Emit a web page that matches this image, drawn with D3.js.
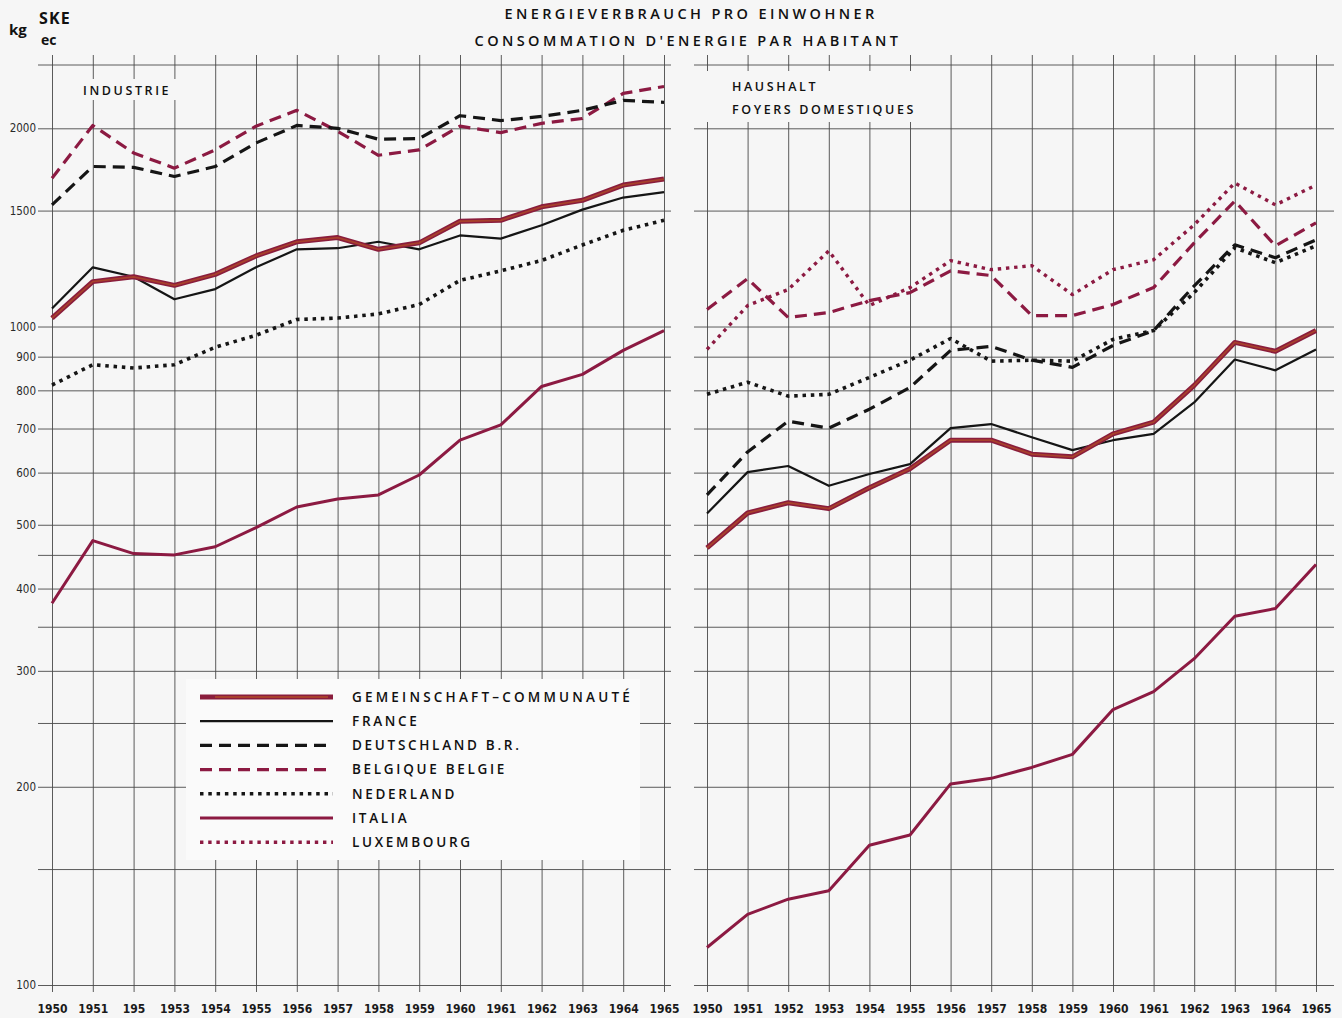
<!DOCTYPE html>
<html>
<head>
<meta charset="utf-8">
<script src="https://cdn.jsdelivr.net/npm/d3@7"></script>
<style>
  body { margin: 0; background: #f6f6f6; }
  svg { display: block; }
</style>
</head>
<body>
<div id="chart"></div>
<script>
// years and tick labels
const years = [1950, 1951, 1952, 1953, 1954, 1955, 1956, 1957, 1958, 1959, 1960, 1961, 1962, 1963, 1964, 1965];
const leftYearLabels = ["1950", "1951", "195", "1953", "1954", "1955", "1956", "1957", "1958", "1959", "1960", "1961", "1962", "1963", "1964", "1965"];
const rightYearLabels = ["1950", "1951", "1952", "1953", "1954", "1955", "1956", "1957", "1958", "1959", "1960", "1961", "1962", "1963", "1964", "1965"];
const yLabelValues = [100, 200, 300, 400, 500, 600, 700, 800, 900, 1000, 1500, 2000];
const yGridValues = [100, 150, 200, 250, 300, 350, 400, 450, 500, 600, 700, 800, 900, 1000, 1500, 2000, 2500];

// Industrie (kg SKE per inhabitant)
const indGemeinschaft = [1030, 1170, 1190, 1155, 1200, 1280, 1345, 1365, 1310, 1340, 1445, 1450, 1520, 1555, 1640, 1675];
const indFrance = [1065, 1230, 1190, 1100, 1140, 1230, 1310, 1315, 1345, 1310, 1375, 1360, 1425, 1505, 1570, 1600];
const indDeutschland = [1530, 1750, 1745, 1690, 1750, 1900, 2020, 2000, 1925, 1930, 2090, 2055, 2085, 2130, 2205, 2190];
const indBelgique = [1680, 2020, 1835, 1740, 1855, 2015, 2130, 1980, 1820, 1855, 2015, 1970, 2035, 2070, 2260, 2315];
const indNederland = [815, 875, 865, 875, 930, 970, 1025, 1030, 1045, 1080, 1175, 1215, 1260, 1330, 1400, 1450];
const indItalia = [380, 473, 452, 450, 463, 495, 532, 547, 555, 595, 672, 709, 811, 846, 920, 986];

// Haushalt / foyers domestiques
const hauGemeinschaft = [461, 521, 540, 529, 569, 608, 672, 672, 640, 634, 687, 716, 814, 946, 917, 986];
const hauFrance = [520, 601, 614, 573, 597, 618, 701, 711, 679, 649, 672, 687, 767, 891, 858, 923];
const hauDeutschland = [555, 645, 718, 701, 749, 808, 920, 933, 889, 867, 936, 986, 1153, 1331, 1272, 1354];
const hauBelgique = [1061, 1182, 1032, 1050, 1095, 1126, 1215, 1195, 1039, 1039, 1080, 1146, 1340, 1551, 1326, 1437];
const hauNederland = [789, 823, 784, 789, 837, 889, 959, 886, 889, 886, 956, 986, 1126, 1317, 1250, 1326];
const hauItalia = [114, 128, 135, 139, 163, 169, 202, 206, 214, 224, 262, 279, 313, 363, 373, 435];
const hauLuxembourg = [923, 1076, 1138, 1303, 1076, 1146, 1259, 1220, 1237, 1118, 1220, 1263, 1427, 1652, 1530, 1640];

const legendNames = ["GEMEINSCHAFT\u2013COMMUNAUTÉ", "FRANCE", "DEUTSCHLAND B.R.", "BELGIQUE BELGIE", "NEDERLAND", "ITALIA", "LUXEMBOURG"];

const width = 1342, height = 1018;
const maroon = "#8c1a42";

// line styles per country
const styles = {
    gem: { stroke: "#8a1d3c", width: 5, dash: null, inner: "#a8402c" },
    fra: { stroke: "#151515", width: 2.2, dash: null },
    deu: { stroke: "#151515", width: 3.2, dash: "12,7" },
    bel: { stroke: maroon, width: 3.2, dash: "12,7" },
    ned: { stroke: "#151515", width: 3.6, dash: "3.5,4.8" },
    ita: { stroke: maroon, width: 3, dash: null },
    lux: { stroke: maroon, width: 3.4, dash: "3.4,4.8" }
};
const legendKeys = ["gem", "fra", "deu", "bel", "ned", "ita", "lux"];

const svg = d3.select("#chart")
    .append("svg")
    .attr("width", width)
    .attr("height", height)
    .style("background", "#f6f6f6");

const y = d3.scaleLog().domain([100, 2500]).range([985, 64.5]);

const panels = [
    {
        x: d3.scaleLinear().domain([1950, 1965]).range([52, 664]),
        hx: [38, 671],
        labels: leftYearLabels,
        series: [
            ["ita", indItalia], ["ned", indNederland], ["bel", indBelgique],
            ["deu", indDeutschland], ["fra", indFrance], ["gem", indGemeinschaft]
        ]
    },
    {
        x: d3.scaleLinear().domain([1950, 1965]).range([707, 1316]),
        hx: [694, 1334],
        labels: rightYearLabels,
        series: [
            ["ita", hauItalia], ["lux", hauLuxembourg], ["ned", hauNederland], ["bel", hauBelgique],
            ["deu", hauDeutschland], ["fra", hauFrance], ["gem", hauGemeinschaft]
        ]
    }
];

const gridColor = "#4a4a4a";

panels.forEach((p, pi) => {
    // horizontal grid
    svg.append("g")
        .attr("transform", `translate(${p.hx[0]},0)`)
        .call(d3.axisLeft(y).tickValues(yGridValues).tickSize(-(p.hx[1] - p.hx[0])).tickFormat(""))
        .call(g => g.select(".domain").remove())
        .call(g => g.selectAll("line").attr("stroke", gridColor).attr("stroke-width", 0.9));

    // vertical grid
    svg.append("g")
        .attr("transform", "translate(0,992)")
        .call(d3.axisBottom(p.x).tickValues(years).tickSize(-(992 - 55)).tickFormat(""))
        .call(g => g.select(".domain").remove())
        .call(g => g.selectAll("line").attr("stroke", gridColor).attr("stroke-width", 0.9));

    // year labels
    svg.append("g")
        .attr("transform", "translate(0,1001)")
        .call(d3.axisBottom(p.x).tickValues(years).tickSize(0).tickPadding(3).tickFormat((d, i) => p.labels[i]))
        .call(g => g.select(".domain").remove())
        .call(g => g.selectAll("text")
            .style("font-family", "'DejaVu Sans Condensed', 'Liberation Sans Narrow', sans-serif")
            .style("font-size", "12px")
            .style("font-weight", "bold")
            .attr("fill", "#1a1a1a"));
});

// y labels (left only)
svg.append("g")
    .attr("transform", "translate(38,0)")
    .call(d3.axisLeft(y).tickValues(yLabelValues).tickSize(0).tickPadding(2).tickFormat(d3.format("d")))
    .call(g => g.select(".domain").remove())
    .call(g => g.selectAll("text")
        .style("font-family", "'DejaVu Sans Condensed', sans-serif")
        .style("font-size", "11.5px")
        .attr("fill", "#2a2a2a"));

// masks behind panel labels
svg.append("rect").attr("x", 76).attr("y", 79).attr("width", 104).attr("height", 21).attr("fill", "#f6f6f6");
svg.append("rect").attr("x", 700).attr("y", 71).attr("width", 236).attr("height", 51).attr("fill", "#f6f6f6");

// lines
panels.forEach(p => {
    const line = d3.line()
        .x((d, i) => p.x(years[i]))
        .y(d => y(d));
    p.series.forEach(([key, values]) => {
        const s = styles[key];
        svg.append("path")
            .datum(values)
            .attr("d", line)
            .attr("fill", "none")
            .attr("stroke", s.stroke)
            .attr("stroke-width", s.width)
            .attr("stroke-dasharray", s.dash)
            .attr("stroke-linejoin", "round");
        if (s.inner) {
            svg.append("path")
                .datum(values)
                .attr("d", line)
                .attr("fill", "none")
                .attr("stroke", s.inner)
                .attr("stroke-width", 1.8)
                .attr("stroke-linejoin", "round");
        }
    });
});

// legend
svg.append("rect")
    .attr("x", 186).attr("y", 679).attr("width", 454).attr("height", 181)
    .attr("fill", "#fafafa");

const legend = svg.append("g");
legendKeys.forEach((key, i) => {
    const s = styles[key];
    const ly = 697 + i * 24.2;
    legend.append("line")
        .attr("x1", 200).attr("x2", 333).attr("y1", ly).attr("y2", ly)
        .attr("stroke", s.stroke)
        .attr("stroke-width", s.width)
        .attr("stroke-dasharray", s.dash);
    if (s.inner) {
        legend.append("line")
            .attr("x1", 215).attr("x2", 328).attr("y1", ly).attr("y2", ly)
            .attr("stroke", s.inner)
            .attr("stroke-width", 1.8);
    }
    legend.append("text")
        .attr("x", 352).attr("y", ly).attr("dy", "0.36em")
        .style("font-family", "'Open Sans', sans-serif")
        .style("font-size", "13.5px")
        .style("font-weight", "600")
        .style("letter-spacing", i === 0 ? "3.2px" : "2.7px")
        .attr("fill", "#111")
        .text(legendNames[i]);
});

// titles
const capsFont = "'Open Sans', sans-serif";
svg.append("text")
    .attr("x", 691).attr("y", 19)
    .attr("text-anchor", "middle")
    .style("font-family", capsFont).style("font-size", "14.5px").style("font-weight", "600")
    .style("letter-spacing", "3.4px")
    .attr("fill", "#111")
    .text("ENERGIEVERBRAUCH PRO EINWOHNER");
svg.append("text")
    .attr("x", 688).attr("y", 46)
    .attr("text-anchor", "middle")
    .style("font-family", capsFont).style("font-size", "14.5px").style("font-weight", "600")
    .style("letter-spacing", "3.4px")
    .attr("fill", "#111")
    .text("CONSOMMATION D'ENERGIE PAR HABITANT");

// unit
svg.append("text").attr("x", 9).attr("y", 35)
    .style("font-family", capsFont).style("font-size", "15px").style("font-weight", "bold")
    .attr("fill", "#111").text("kg");
svg.append("text").attr("x", 39).attr("y", 24)
    .style("font-family", capsFont).style("font-size", "16px").style("font-weight", "bold")
    .style("letter-spacing", "1.2px")
    .attr("fill", "#111").text("SKE");
svg.append("text").attr("x", 41).attr("y", 45)
    .style("font-family", capsFont).style("font-size", "14px").style("font-weight", "bold")
    .attr("fill", "#111").text("ec");

// panel labels
function panelLabel(x, yy, t) {
    svg.append("text").attr("x", x).attr("y", yy)
        .style("font-family", capsFont).style("font-size", "12.5px").style("font-weight", "600")
        .style("letter-spacing", "2.6px")
        .attr("fill", "#111").text(t);
}
panelLabel(83, 95, "INDUSTRIE");
panelLabel(732, 91, "HAUSHALT");
panelLabel(732, 114, "FOYERS DOMESTIQUES");
</script>
</body>
</html>
